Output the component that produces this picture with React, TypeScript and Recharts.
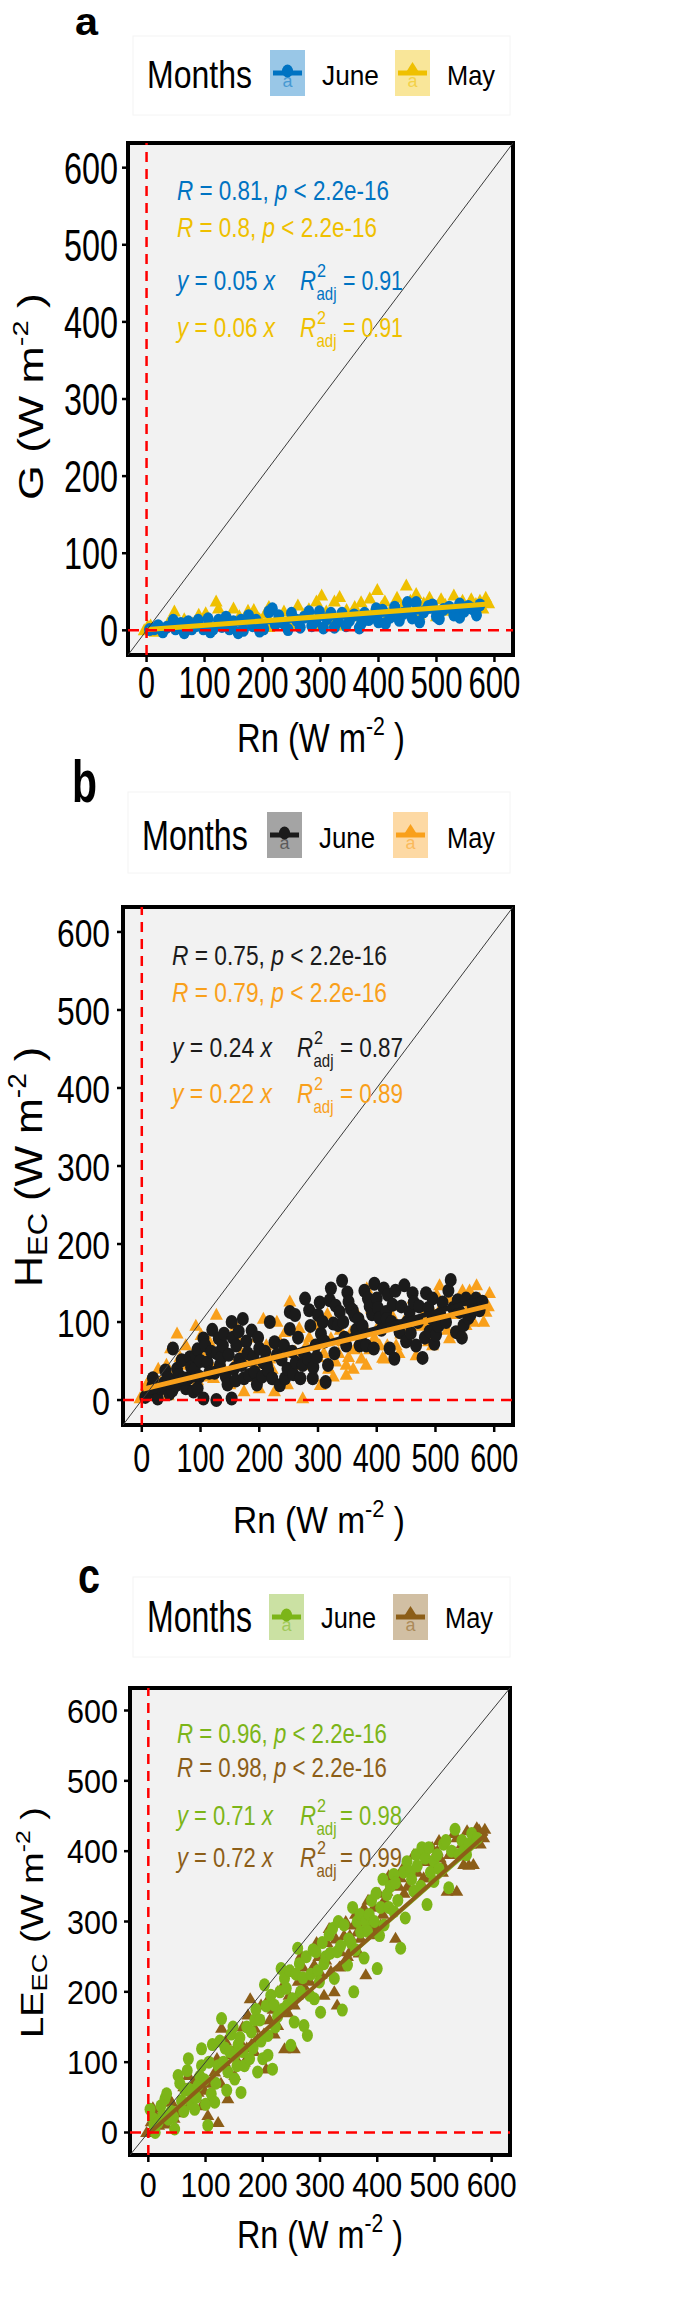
import React from 'react';
import { ScatterChart, Scatter, XAxis, YAxis, CartesianGrid, ReferenceArea } from 'recharts';

const FONT = '"Liberation Sans", Arial, Helvetica, sans-serif';

const TICKS = [0, 100, 200, 300, 400, 500, 600];
const LIMITS: [number, number] = [-32, 632];
const MONTHS = ['June', 'May'];

// 1:1 line and the zero guides
const ONE_TO_ONE = [[-32, -32], [632, 632]];
const ZERO_V = [[0, -32], [0, 632]];
const ZERO_H = [[-32, 0], [632, 0]];

// a: G vs Rn
const A_COLORS = ['#0073C2', '#EFC000'];
const A_JUNE = [
  [5, 1], [13, 2], [20, 6], [28, -2], [35, 4], [46, 13], [50, 2], [59, 9], [65, -3], [72, 11], [78, 2], [85, 6],
  [89, 13], [98, 2], [106, 15], [110, -2], [115, 2], [124, 13], [130, 5], [137, 17], [143, 2], [150, 11], [158, -3],
  [163, 13], [167, 0], [176, 19], [183, 6], [189, 13], [195, -1], [202, 2], [211, 24], [217, 28], [222, 8], [228, 19],
  [237, 9], [244, 1], [250, 22], [259, 13], [265, 4], [272, 17], [280, 24], [285, 6], [292, 12], [298, 24], [305, 3],
  [311, 15], [318, 22], [324, 4], [330, 12], [337, 22], [344, 6], [350, 13], [358, 20], [367, 3], [371, 10], [376, 22],
  [383, 14], [389, 17], [396, 28], [400, 11], [407, 26], [412, 9], [420, 17], [428, 30], [436, 13], [443, 22], [450, 36],
  [458, 16], [465, 36], [471, 11], [478, 24], [486, 31], [493, 33], [500, 18], [505, 15], [512, 27], [522, 30], [530, 20],
  [540, 34], [540, 17], [548, 25], [555, 31], [562, 28], [569, 20], [575, 33],
];
const A_MAY = [
  [-4, 0], [2, 5], [7, 6], [15, -2], [26, 2], [37, 9], [48, 24], [55, 4], [65, 14], [80, 9], [90, 20], [102, 22],
  [110, 5], [120, 37], [124, 28], [135, 12], [150, 28], [160, 18], [167, 9], [175, 25], [185, 26], [195, 14], [205, 22],
  [211, 30], [211, 4], [225, 15], [237, 24], [248, 8], [261, 32], [270, 20], [280, 27], [289, 6], [293, 37], [302, 45],
  [310, 24], [318, 12], [324, 37], [333, 43], [337, 6], [345, 26], [352, 18], [359, 30], [370, 36], [378, 14], [385, 41],
  [392, 26], [398, 52], [405, 30], [411, 37], [418, 22], [424, 17], [432, 42], [440, 30], [448, 58], [455, 38], [465, 47],
  [470, 20], [478, 35], [488, 42], [495, 28], [500, 18], [508, 40], [515, 33], [520, 25], [530, 45], [538, 32], [545, 38],
  [550, 30], [560, 40], [568, 34], [575, 38], [580, 28], [585, 42], [590, 35],
];
const A_FIT_JUNE = [[5, 1], [575, 29]];
const A_FIT_MAY = [[2, 1], [590, 34]];
const A_R = ['0.81', '0.8'];
const A_SLOPE = ['0.05', '0.06'];
const A_R2 = ['0.91', '0.91'];

// b: H_EC vs Rn
const B_COLORS = ['#1B1B1B', '#F9A01B'];
const B_JUNE = [
  [6, 4], [12, 10], [18, 18], [19, 28], [25, 10], [27, 2], [33, 15], [38, 22], [40, 38], [45, 28], [47, 8], [52, 12],
  [53, 66], [58, 19], [60, 40], [63, 32], [68, 51], [71, 28], [75, 15], [79, 28], [82, 55], [84, 42], [88, 11],
  [90, 40], [92, 57], [95, 65], [95, 15], [98, 30], [100, 50], [105, 79], [105, 2], [108, 70], [112, 48], [115, 35],
  [118, 62], [120, 90], [124, 35], [127, 0], [128, 60], [131, 79], [133, 45], [136, 55], [138, 70], [140, 85],
  [143, 30], [146, 20], [148, 58], [153, 100], [153, 2], [155, 80], [157, 40], [160, 25], [161, 70], [165, 88],
  [166, 52], [170, 45], [172, 104], [174, 28], [178, 75], [180, 60], [183, 32], [187, 89], [190, 55], [192, 36],
  [196, 20], [198, 80], [200, 66], [205, 30], [207, 48], [210, 62], [213, 45], [215, 38], [218, 100], [222, 28],
  [226, 74], [230, 58], [235, 19], [238, 52], [242, 70], [244, 28], [248, 40], [252, 113], [252, 91], [256, 62],
  [258, 33], [261, 109], [262, 48], [266, 80], [270, 28], [274, 45], [276, 60], [278, 130], [283, 53], [285, 115],
  [287, 95], [291, 28], [292, 42], [296, 70], [298, 55], [300, 109], [303, 125], [305, 85], [308, 100], [311, 75],
  [313, 23], [317, 45], [320, 128], [322, 143], [326, 98], [328, 60], [330, 121], [334, 96], [337, 113], [341, 153],
  [343, 100], [345, 80], [348, 70], [350, 138], [352, 126], [356, 117], [359, 115], [362, 108], [365, 90], [369, 104],
  [371, 70], [374, 83], [376, 95], [379, 140], [382, 70], [385, 130], [388, 120], [392, 110], [395, 66], [396, 149],
  [400, 130], [402, 118], [405, 105], [408, 90], [412, 143], [416, 113], [417, 104], [419, 135], [422, 66], [425, 100],
  [427, 122], [430, 53], [432, 140], [435, 95], [439, 87], [442, 120], [447, 147], [450, 75], [452, 100], [456, 113],
  [458, 86], [461, 137], [463, 125], [467, 70], [470, 100], [472, 120], [478, 54], [482, 80], [484, 137], [488, 118],
  [490, 88], [495, 130], [495, 104], [498, 72], [501, 84], [505, 95], [508, 110], [512, 125], [518, 100], [522, 140],
  [526, 154], [530, 118], [535, 87], [538, 128], [541, 113], [545, 80], [548, 96], [552, 130], [556, 105], [560, 110],
  [563, 122], [569, 130], [575, 115], [580, 126],
];
const B_MAY = [
  [-3, 2], [3, 8], [8, 19], [12, 25], [15, 5], [22, 30], [28, 40], [32, 23], [38, 12], [42, 45], [45, 6], [49, 66],
  [55, 35], [60, 85], [65, 55], [70, 20], [75, 70], [79, 45], [85, 35], [88, 60], [92, 95], [95, 25], [101, 83],
  [105, 55], [110, 30], [115, 75], [118, 45], [122, 28], [127, 109], [135, 70], [140, 40], [144, 62], [150, 20],
  [157, 45], [160, 95], [166, 74], [170, 60], [174, 11], [182, 55], [188, 30], [192, 45], [196, 80], [200, 15],
  [207, 104], [212, 70], [218, 53], [222, 40], [226, 11], [230, 100], [235, 75], [240, 60], [244, 87], [248, 20],
  [252, 126], [256, 40], [261, 62], [265, 45], [268, 92], [274, 2], [280, 70], [285, 80], [287, 45], [292, 30],
  [296, 96], [300, 55], [304, 19], [310, 60], [316, 110], [318, 40], [322, 79], [326, 30], [330, 49], [335, 60],
  [338, 90], [342, 75], [348, 32], [348, 45], [352, 55], [356, 87], [360, 40], [362, 65], [367, 110], [370, 75],
  [374, 53], [378, 95], [382, 45], [383, 143], [388, 65], [391, 117], [396, 80], [400, 91], [405, 70], [410, 54],
  [413, 53], [418, 70], [420, 100], [425, 110], [430, 121], [433, 70], [438, 60], [441, 85], [446, 100], [450, 84],
  [455, 75], [458, 110], [462, 130], [467, 57], [475, 95], [480, 110], [484, 96], [488, 75], [490, 120], [495, 70],
  [498, 100], [502, 135], [507, 147], [510, 120], [515, 100], [520, 90], [524, 130], [524, 79], [532, 110],
  [536, 120], [541, 91], [546, 140], [552, 113], [552, 96], [558, 140], [560, 125], [565, 100], [570, 147],
  [575, 130], [578, 118], [582, 100], [586, 113], [590, 120], [592, 137],
];
const B_FIT_JUNE = [[5, 8], [580, 130]];
const B_FIT_MAY = [[2, 14], [592, 121]];
const B_R = ['0.75', '0.79'];
const B_SLOPE = ['0.24', '0.22'];
const B_R2 = ['0.87', '0.89'];

// c: LE_EC vs Rn
const C_COLORS = ['#7CB518', '#8C5E18'];
const C_JUNE = [
  [3, 33], [8, 20], [10, 10], [12, 0], [17, 14], [22, 38], [25, 25], [29, 48], [32, 55], [35, 19], [40, 30], [44, 22],
  [46, 5], [52, 81], [55, 70], [58, 45], [62, 30], [64, 60], [68, 88], [70, 62], [70, 105], [75, 60], [76, 40],
  [81, 33], [84, 50], [87, 67], [90, 80], [93, 119], [93, 95], [98, 75], [100, 40], [104, 10], [106, 100], [110, 55],
  [112, 125], [116, 43], [118, 70], [122, 95], [125, 130], [128, 162], [131, 100], [134, 120], [137, 60], [139, 86],
  [142, 115], [145, 140], [148, 150], [151, 110], [151, 76], [155, 95], [157, 125], [160, 135], [162, 57], [165, 115],
  [168, 95], [172, 150], [177, 105], [180, 143], [183, 120], [186, 160], [188, 175], [191, 86], [195, 160], [197, 130],
  [200, 105], [203, 210], [206, 180], [209, 110], [209, 138], [214, 195], [217, 90], [220, 181], [222, 150],
  [226, 165], [230, 200], [232, 233], [235, 175], [238, 219], [241, 205], [243, 181], [247, 230], [249, 124],
  [252, 190], [255, 157], [258, 225], [261, 262], [264, 240], [266, 200], [270, 220], [272, 152], [276, 250],
  [278, 138], [282, 195], [284, 225], [288, 260], [290, 190], [293, 257], [296, 230], [299, 214], [301, 171],
  [304, 270], [307, 240], [310, 250], [316, 281], [318, 255], [322, 290], [325, 219], [330, 257], [332, 300],
  [336, 265], [339, 174], [342, 295], [348, 238], [350, 275], [354, 270], [357, 320], [359, 200], [362, 260],
  [365, 300], [370, 310], [371, 285], [377, 248], [380, 300], [383, 286], [386, 310], [390, 330], [395, 300],
  [398, 340], [400, 233], [404, 280], [406, 320], [410, 360], [412, 295], [417, 338], [420, 320], [423, 350],
  [429, 367], [429, 314], [432, 355], [436, 330], [441, 262], [446, 370], [449, 305], [452, 385], [458, 371],
  [460, 360], [464, 343], [468, 395], [470, 379], [476, 350], [478, 405], [484, 390], [487, 324], [490, 405],
  [493, 370], [499, 386], [499, 357], [505, 395], [508, 375], [516, 410], [520, 415], [525, 348], [530, 400],
  [536, 431], [543, 395], [548, 415], [551, 400], [556, 395], [560, 410], [565, 425], [568, 419], [575, 418],
];
const C_MAY = [
  [-3, 0], [5, 15], [8, 35], [12, 24], [18, 10], [23, 29], [30, 12], [35, 50], [41, 43], [45, 20], [50, 28], [58, 38],
  [62, 65], [70, 81], [72, 40], [78, 50], [82, 75], [87, 57], [93, 38], [98, 60], [104, 24], [108, 45], [110, 70],
  [116, 86], [120, 105], [122, 14], [127, 70], [128, 148], [133, 100], [135, 130], [139, 48], [142, 85], [145, 110],
  [151, 119], [151, 81], [157, 100], [160, 130], [165, 150], [168, 100], [172, 120], [174, 167], [178, 190],
  [180, 125], [185, 115], [186, 148], [191, 133], [194, 160], [197, 181], [202, 140], [206, 90], [210, 190],
  [212, 160], [218, 175], [220, 140], [226, 200], [226, 152], [232, 175], [236, 210], [238, 119], [244, 170],
  [246, 195], [250, 230], [255, 119], [255, 181], [260, 195], [262, 215], [267, 252], [270, 235], [273, 205],
  [278, 200], [282, 215], [285, 230], [290, 238], [294, 270], [298, 250], [302, 225], [307, 195], [310, 245],
  [312, 270], [316, 290], [319, 229], [325, 200], [328, 275], [330, 181], [334, 235], [336, 257], [342, 280],
  [345, 300], [348, 250], [352, 280], [354, 260], [359, 295], [362, 310], [365, 285], [368, 255], [371, 276],
  [374, 300], [377, 319], [380, 224], [384, 330], [388, 300], [392, 290], [394, 320], [400, 281], [403, 340],
  [406, 295], [410, 310], [412, 330], [417, 343], [420, 365], [426, 362], [432, 276], [438, 350], [441, 362],
  [444, 375], [447, 340], [453, 350], [458, 370], [464, 395], [470, 370], [475, 400], [481, 362], [485, 395],
  [487, 385], [493, 362], [496, 405], [499, 376], [505, 400], [508, 415], [510, 390], [514, 370], [516, 380],
  [522, 343], [526, 395], [530, 400], [534, 425], [539, 419], [539, 343], [545, 395], [548, 410], [551, 381],
  [557, 429], [560, 380], [563, 410], [568, 381], [570, 420], [574, 433], [578, 430], [580, 410], [586, 419],
  [588, 431],
];
const C_FIT_JUNE = [[3, 2], [575, 410]];
const C_FIT_MAY = [[0, -2], [592, 425]];
const C_R = ['0.96', '0.98'];
const C_SLOPE = ['0.71', '0.72'];
const C_R2 = ['0.98', '0.99'];

const pts = (a: number[][]) => a.map(([x, y]) => ({ x, y }));

// advance widths (per 1000 em) of the sans font, used to squeeze text to the measured widths
const CW: Record<string, number> = {
  ' ': 278, '(': 333, ')': 333, ',': 278, '-': 333, '.': 278, '<': 584, '=': 584,
  C: 722, E: 667, G: 778, H: 722, J: 500, L: 556, M: 833, R: 722, W: 944,
  a: 556, d: 556, e: 556, h: 556, j: 222, m: 833, n: 556, o: 556, p: 556, s: 500, t: 278, u: 556, x: 500, y: 500,
};
const CW_BOLD: Record<string, number> = { a: 556, b: 611, c: 556 };
const textW = (s: string, f: number, bold = false) =>
  (s.split('').reduce((acc, ch) => acc + ((bold ? CW_BOLD[ch] : CW[ch]) ?? 556), 0) * f) / 1000;

function SqText({ x, y, w, font, natural, anchor = 'start', children, ...rest }: any) {
  const sx = w / natural;
  return (
    <text transform={`translate(${x},${y}) scale(${sx.toFixed(4)},1)`} fontSize={font} textAnchor={anchor} {...rest}>
      {children}
    </text>
  );
}

const LAYOUT_A = {
  top: 0, height: 770, plot: { l: 128, t: 143, r: 513, b: 655 },
  yTick: { font: 44, right: 118, dy: 16, w3: 54, w1: 18 },
  xTick: { font: 44, base: 698, w3: 52, w1: 17 },
  letter: { text: 'a', x: 75, base: 35, font: 38, w: 23 },
  legend: { x: 147, base: 88, font: 38, w: 105, boxY: 50, boxH: 46, boxX: [270, 395], boxW: 35, labX: [322, 447], labBase: 85, labFont: 28, labW: [57, 48], frame: [133, 36, 377, 79] },
  stats: { x: 177, base: [200, 237, 290, 337], font: 27, w: [212, 200], eqW: 98, rx: 300, eqOff: 43, valW: 60 },
  xTitle: { x: 237, w: 168, base: 752, font: 40 },
  yTitle: { x: 43, y: 500, len: 207, cap: 25 },
  pt: { rx: 5.5, ry: 6.5, tw: 6.5, th: 12 }, fitW: [5, 5],
};
const LAYOUT_B = {
  top: 770, height: 780, plot: { l: 123, t: 907, r: 513, b: 1425 },
  yTick: { font: 38, right: 110, dy: 15, w3: 53, w1: 18 },
  xTick: { font: 40, base: 1472, w3: 48, w1: 17 },
  letter: { text: 'b', x: 72, base: 802, font: 60, w: 25 },
  legend: { x: 142, base: 850, font: 42, w: 106, boxY: 812, boxH: 46, boxX: [267, 393], boxW: 35, labX: [319, 447], labBase: 848, labFont: 29, labW: [56, 48], frame: [128, 792, 382, 81] },
  stats: { x: 172, base: [965, 1002, 1057, 1103], font: 28, w: [215, 215], eqW: 100, rx: 297, eqOff: 43, valW: 63 },
  xTitle: { x: 233, w: 172, base: 1533, font: 37 },
  yTitle: { x: 42, y: 1287, len: 240, cap: 28, sub: 'EC' },
  pt: { rx: 6, ry: 7, tw: 6.5, th: 12 }, fitW: [5, 5],
};
const LAYOUT_C = {
  top: 1550, height: 759, plot: { l: 130, t: 1688, r: 510, b: 2155 },
  yTick: { font: 34, right: 118, dy: 12, w3: 51, w1: 17 },
  xTick: { font: 35, base: 2197, w3: 50, w1: 17 },
  letter: { text: 'c', x: 78, base: 1593, font: 50, w: 22 },
  legend: { x: 147, base: 1632, font: 44, w: 105, boxY: 1594, boxH: 46, boxX: [269, 393], boxW: 35, labX: [321, 445], labBase: 1628, labFont: 29, labW: [55, 48], frame: [133, 1577, 377, 80] },
  stats: { x: 177, base: [1743, 1777, 1825, 1867], font: 28, w: [210, 210], eqW: 96, rx: 300, eqOff: 40, valW: 62 },
  xTitle: { x: 237, w: 166, base: 2248, font: 39 },
  yTitle: { x: 43, y: 2038, len: 231, cap: 22, sub: 'EC' },
  pt: { rx: 5.5, ry: 6.5, tw: 6.5, th: 11 }, fitW: [3, 4],
};

const dotShape = (color: string, pt: any) => (p: any) => (
  <ellipse cx={p.cx} cy={p.cy} rx={pt.rx} ry={pt.ry} fill={color} />
);
const triShape = (color: string, pt: any) => (p: any) => (
  <polygon
    points={`${p.cx},${p.cy - pt.th * 0.6} ${p.cx - pt.tw},${p.cy + pt.th * 0.4} ${p.cx + pt.tw},${p.cy + pt.th * 0.4}`}
    fill={color}
  />
);
const noShape = () => <g />;

function PanelChart({ cfg, colors, june, may, fitJune, fitMay }: any) {
  const { plot } = cfg;
  const xTick = (p: any) => {
    const s = String(p.payload.value);
    return (
      <SqText x={p.x} y={cfg.xTick.base - cfg.top} w={s.length === 1 ? cfg.xTick.w1 : cfg.xTick.w3}
        font={cfg.xTick.font} natural={textW(s, cfg.xTick.font)} anchor="middle" fontFamily={FONT} fill="#000">{s}</SqText>
    );
  };
  const yTick = (p: any) => {
    const s = String(p.payload.value);
    return (
      <SqText x={cfg.yTick.right} y={p.y + cfg.yTick.dy} w={s.length === 1 ? cfg.yTick.w1 : cfg.yTick.w3}
        font={cfg.yTick.font} natural={textW(s, cfg.yTick.font)} anchor="end" fontFamily={FONT} fill="#000">{s}</SqText>
    );
  };
  return (
    <div style={{ position: 'absolute', left: 0, top: cfg.top }}>
      <ScatterChart width={685} height={cfg.height}
        margin={{ top: plot.t - cfg.top, right: 685 - plot.r, bottom: 0, left: 0 }}>
        <CartesianGrid fill="#F2F2F2" horizontal={false} vertical={false} stroke="none" />
        <XAxis type="number" dataKey="x" domain={LIMITS} ticks={TICKS} allowDataOverflow
          height={cfg.top + cfg.height - plot.b} axisLine={false}
          tickLine={{ stroke: '#000', strokeWidth: 2.5 }} tickSize={7} tick={xTick} />
        <YAxis type="number" dataKey="y" domain={LIMITS} ticks={TICKS} allowDataOverflow
          width={plot.l} axisLine={false}
          tickLine={{ stroke: '#000', strokeWidth: 2.5 }} tickSize={6} tick={yTick} />
        <Scatter name="May" data={pts(may)} shape={triShape(colors[1], cfg.pt)} isAnimationActive={false} />
        <Scatter name="June" data={pts(june)} shape={dotShape(colors[0], cfg.pt)} isAnimationActive={false} />
        <Scatter data={pts(fitJune)} shape={noShape} line={{ stroke: colors[0], strokeWidth: cfg.fitW[0] }} isAnimationActive={false} />
        <Scatter data={pts(fitMay)} shape={noShape} line={{ stroke: colors[1], strokeWidth: cfg.fitW[1] }} isAnimationActive={false} />
        <Scatter data={pts(ONE_TO_ONE)} shape={noShape} line={{ stroke: '#3a3a3a', strokeWidth: 1 }} isAnimationActive={false} />
        <Scatter data={pts(ZERO_V)} shape={noShape} line={{ stroke: '#FF0000', strokeWidth: 2.5, strokeDasharray: '10 7' }} isAnimationActive={false} />
        <Scatter data={pts(ZERO_H)} shape={noShape} line={{ stroke: '#FF0000', strokeWidth: 2.5, strokeDasharray: '11 7' }} isAnimationActive={false} />
        <ReferenceArea x1={LIMITS[0]} x2={LIMITS[1]} y1={LIMITS[0]} y2={LIMITS[1]} fill="none"
          stroke="#000" strokeWidth={4} ifOverflow="visible" />
      </ScatterChart>
    </div>
  );
}

function Key({ x, y, w, h, color, kind }: any) {
  const cx = x + w / 2;
  const cy = y + h / 2;
  return (
    <g>
      <rect x={x} y={y} width={w} height={h} fill={color} fillOpacity={0.4} />
      <line x1={x + 3} x2={x + w - 3} y1={cy} y2={cy} stroke={color} strokeWidth={5} />
      {kind === 'circle'
        ? <ellipse cx={cx} cy={cy - 2} rx={5.5} ry={6.5} fill={color} />
        : <polygon points={`${cx},${cy - 11} ${cx - 7},${cy} ${cx + 7},${cy}`} fill={color} />}
      <text x={cx} y={cy + 14} textAnchor="middle" fontSize={18} fill={color} fillOpacity={0.55}>a</text>
    </g>
  );
}

function Annotations({ cfg, colors, R, slope, R2 }: any) {
  const lg = cfg.legend;
  const st = cfg.stats;
  const xt = cfg.xTitle;
  const yt = cfg.yTitle;
  const sub = yt.sub || '';
  // rotated y title: font from its length, thickness squeezed to the measured cap height
  const yEm = textW(cfg.yName, 1) + textW(sub, 0.72) + textW(' (W m', 1) + textW('-2', 0.65) + textW(' )', 1);
  const yf = yt.len / yEm;
  const ysx = yt.cap / (0.716 * yf);
  const xf = xt.font;
  const xNat = textW('Rn (W m', xf) + textW('-2', xf * 0.65) + textW(' )', xf);
  const small = st.font * 0.68;
  return (
    <g fontFamily={FONT}>
      <SqText x={cfg.letter.x} y={cfg.letter.base} w={cfg.letter.w} font={cfg.letter.font}
        natural={textW(cfg.letter.text, cfg.letter.font, true)} fontWeight="bold">{cfg.letter.text}</SqText>

      <rect x={lg.frame[0]} y={lg.frame[1]} width={lg.frame[2]} height={lg.frame[3]} fill="#fff" stroke="#F4F4F4" />
      <SqText x={lg.x} y={lg.base} w={lg.w} font={lg.font} natural={textW('Months', lg.font)}>Months</SqText>
      {MONTHS.map((m, i) => (
        <g key={m}>
          <Key x={lg.boxX[i]} y={lg.boxY} w={lg.boxW} h={lg.boxH} color={colors[i]} kind={i === 0 ? 'circle' : 'tri'} />
          <SqText x={lg.labX[i]} y={lg.labBase} w={lg.labW[i]} font={lg.labFont} natural={textW(m, lg.labFont)}>{m}</SqText>
        </g>
      ))}

      {[0, 1].map((i) => (
        <SqText key={'r' + i} x={st.x} y={st.base[i]} w={st.w[i]} font={st.font} fill={colors[i]}
          natural={textW(`R = ${R[i]}, p < 2.2e-16`, st.font)}>
          <tspan fontStyle="italic">R</tspan>{` = ${R[i]}, `}<tspan fontStyle="italic">p</tspan>{' < 2.2e-16'}
        </SqText>
      ))}
      {[0, 1].map((i) => {
        const b = st.base[i + 2];
        return (
          <g key={'e' + i} fill={colors[i]}>
            <SqText x={st.x} y={b} w={st.eqW} font={st.font} natural={textW(`y = ${slope[i]} x`, st.font)}>
              <tspan fontStyle="italic">y</tspan>{` = ${slope[i]} `}<tspan fontStyle="italic">x</tspan>
            </SqText>
            <SqText x={st.rx} y={b} w={16} font={st.font} natural={textW('R', st.font)} fontStyle="italic">R</SqText>
            <SqText x={st.rx + 17} y={b - 13} w={9} font={small} natural={textW('2', small)}>2</SqText>
            <SqText x={st.rx + 16.5} y={b + 10} w={20} font={small} natural={textW('adj', small)}>adj</SqText>
            <SqText x={st.rx + st.eqOff} y={b} w={st.valW} font={st.font} natural={textW(`= ${R2[i]}`, st.font)}>
              {`= ${R2[i]}`}
            </SqText>
          </g>
        );
      })}

      <SqText x={xt.x} y={xt.base} w={xt.w} font={xf} natural={xNat}>
        {'Rn (W m'}
        <tspan fontSize={xf * 0.65} dy={-xf * 0.42}>-2</tspan>
        <tspan fontSize={xf} dy={xf * 0.42}>{' )'}</tspan>
      </SqText>

      <text transform={`translate(${yt.x},${yt.y}) scale(${ysx.toFixed(4)},1) rotate(-90)`} fontSize={yf}>
        {cfg.yName}
        {sub ? <tspan fontSize={yf * 0.72} dy={yf * 0.12}>{sub}</tspan> : null}
        <tspan fontSize={yf} dy={sub ? -yf * 0.12 : 0}>{' (W m'}</tspan>
        <tspan fontSize={yf * 0.65} dy={-yf * 0.42}>-2</tspan>
        <tspan fontSize={yf} dy={yf * 0.42}>{' )'}</tspan>
      </text>
    </g>
  );
}

export default function App() {
  const panels = [
    { cfg: { ...LAYOUT_A, yName: 'G' }, colors: A_COLORS, june: A_JUNE, may: A_MAY, fitJune: A_FIT_JUNE, fitMay: A_FIT_MAY, R: A_R, slope: A_SLOPE, R2: A_R2 },
    { cfg: { ...LAYOUT_B, yName: 'H' }, colors: B_COLORS, june: B_JUNE, may: B_MAY, fitJune: B_FIT_JUNE, fitMay: B_FIT_MAY, R: B_R, slope: B_SLOPE, R2: B_R2 },
    { cfg: { ...LAYOUT_C, yName: 'LE' }, colors: C_COLORS, june: C_JUNE, may: C_MAY, fitJune: C_FIT_JUNE, fitMay: C_FIT_MAY, R: C_R, slope: C_SLOPE, R2: C_R2 },
  ];
  return (
    <div style={{ position: 'absolute', left: 0, top: 0, width: 685, height: 2309, background: '#fff', fontFamily: FONT }}>
      {panels.map((p, i) => (
        <PanelChart key={i} cfg={p.cfg} colors={p.colors} june={p.june} may={p.may} fitJune={p.fitJune} fitMay={p.fitMay} />
      ))}
      <svg width={685} height={2309} style={{ position: 'absolute', left: 0, top: 0, pointerEvents: 'none' }}>
        {panels.map((p, i) => (
          <Annotations key={i} cfg={p.cfg} colors={p.colors} R={p.R} slope={p.slope} R2={p.R2} />
        ))}
      </svg>
    </div>
  );
}
